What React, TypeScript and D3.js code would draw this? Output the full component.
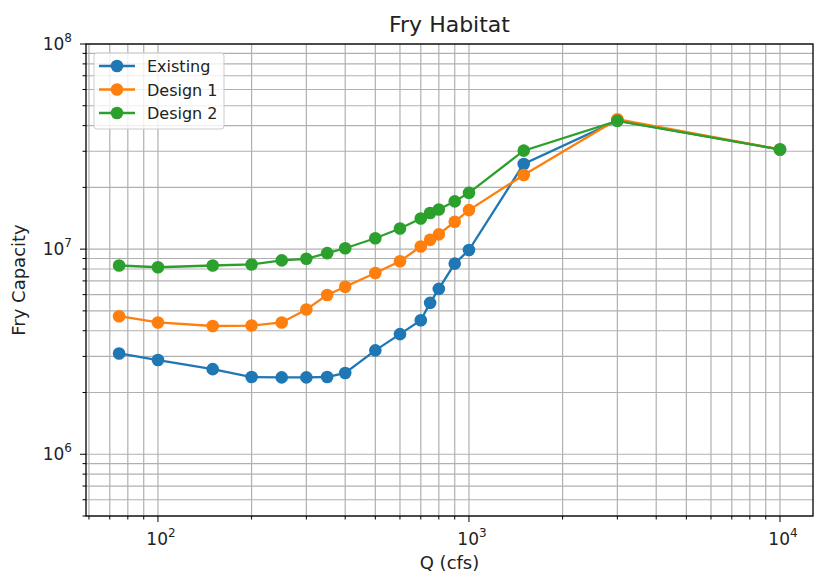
import React from "react";
import * as d3 from "d3";

// flow values (cfs)
const flows = [75, 100, 150, 200, 250, 300, 350, 400, 500, 600, 700, 750, 800, 900, 1000, 1500, 3000, 10000];

const existing = [3.1e6, 2.88e6, 2.6e6, 2.38e6, 2.37e6, 2.37e6, 2.38e6, 2.49e6, 3.21e6, 3.85e6, 4.5e6, 5.47e6, 6.4e6, 8.5e6, 9.9e6, 2.6e7, 4.23e7, 3.06e7];
const design1 = [4.71e6, 4.39e6, 4.22e6, 4.24e6, 4.39e6, 5.08e6, 5.98e6, 6.55e6, 7.65e6, 8.73e6, 1.03e7, 1.11e7, 1.18e7, 1.36e7, 1.55e7, 2.3e7, 4.3e7, 3.06e7];
const design2 = [8.32e6, 8.16e6, 8.32e6, 8.42e6, 8.81e6, 8.97e6, 9.56e6, 1.01e7, 1.13e7, 1.26e7, 1.41e7, 1.5e7, 1.56e7, 1.71e7, 1.88e7, 3.02e7, 4.22e7, 3.06e7];

const seriesNames = ["Existing", "Design 1", "Design 2"];
const seriesColors = ["#1f77b4", "#ff7f0e", "#2ca02c"];

const xMajor = [2, 3, 4];
const yMajor = [6, 7, 8];

const W = 820, H = 574;
const m = { left: 86, right: 7, top: 44, bottom: 58 };
const font = "DejaVu Sans, sans-serif";

export default function App() {
  const x = d3.scaleLog().domain([58.7, 12770]).range([m.left, W - m.right]);
  const y = d3.scaleLog().domain([5e5, 1e8]).range([H - m.bottom, m.top]);

  const xMinor: number[] = [];
  for (let e = 1; e <= 4; e++) for (let k = 2; k <= 9; k++) {
    const v = k * Math.pow(10, e);
    if (v >= 58.7 && v <= 12770) xMinor.push(v);
  }
  const yMinor: number[] = [];
  for (let e = 5; e <= 7; e++) for (let k = 2; k <= 9; k++) {
    const v = k * Math.pow(10, e);
    if (v >= 5e5 && v <= 1e8) yMinor.push(v);
  }

  const data = [existing, design1, design2];
  const line = d3.line<number>().x((d, i) => x(flows[i])).y(d => y(d));
  const x0 = m.left, x1 = W - m.right, y0 = m.top, y1 = H - m.bottom;

  return (
    <svg width={W} height={H} style={{ position: "absolute", left: 0, top: 0, background: "#fff" }} fontFamily={font}>
      <g stroke="#b0b0b0" strokeWidth={1.2}>
        {xMinor.concat(xMajor.map(e => Math.pow(10, e))).map((v, i) => (
          <line key={"gx" + i} x1={x(v)} x2={x(v)} y1={y0} y2={y1} />
        ))}
        {yMinor.concat(yMajor.map(e => Math.pow(10, e))).map((v, i) => (
          <line key={"gy" + i} y1={y(v)} y2={y(v)} x1={x0} x2={x1} />
        ))}
      </g>

      {data.map((s, si) => (
        <g key={si}>
          <path d={line(s) || ""} fill="none" stroke={seriesColors[si]} strokeWidth={2.3} />
          {s.map((d, i) => (
            <circle key={i} cx={x(flows[i])} cy={y(d)} r={6.3} fill={seriesColors[si]} />
          ))}
        </g>
      ))}

      <rect x={x0} y={y0} width={x1 - x0} height={y1 - y0} fill="none" stroke="#000" strokeWidth={1.3} />

      {/* ticks */}
      <g stroke="#000" strokeWidth={1}>
        {xMajor.map(e => (
          <line key={"xt" + e} x1={x(Math.pow(10, e))} x2={x(Math.pow(10, e))} y1={y1} y2={y1 + 6} />
        ))}
        {xMinor.map((v, i) => (
          <line key={"xm" + i} x1={x(v)} x2={x(v)} y1={y1} y2={y1 + 3.5} />
        ))}
        {yMajor.map(e => (
          <line key={"yt" + e} y1={y(Math.pow(10, e))} y2={y(Math.pow(10, e))} x1={x0} x2={x0 - 6} />
        ))}
        {yMinor.map((v, i) => (
          <line key={"ym" + i} y1={y(v)} y2={y(v)} x1={x0} x2={x0 - 3.5} />
        ))}
      </g>

      {xMajor.map(e => (
        <text key={"xl" + e} x={x(Math.pow(10, e)) + 3} y={545} textAnchor="middle" fontSize={17} fill="#222">
          10<tspan dy={-8} fontSize={12}>{e}</tspan>
        </text>
      ))}
      {yMajor.map(e => (
        <text key={"yl" + e} x={x0 - 14} y={y(Math.pow(10, e)) + 6} textAnchor="end" fontSize={17} fill="#222">
          10<tspan dy={-8} fontSize={12}>{e}</tspan>
        </text>
      ))}

      <text x={(x0 + x1) / 2} y={32} textAnchor="middle" fontSize={22} fill="#222">Fry Habitat</text>
      <text x={(x0 + x1) / 2} y={569} textAnchor="middle" fontSize={18} fill="#222">Q (cfs)</text>
      <text transform={`translate(25,${(y0 + y1) / 2}) rotate(-90)`} textAnchor="middle" fontSize={18} fill="#222">Fry Capacity</text>

      {/* legend */}
      <rect x={94} y={53} width={130} height={76} rx={3} fill="#fff" fillOpacity={0.8} stroke="#ccc" />
      {seriesNames.map((n, i) => (
        <g key={n} transform={`translate(0,${66 + i * 23.5})`}>
          <line x1={99} x2={135} y1={0} y2={0} stroke={seriesColors[i]} strokeWidth={2.3} />
          <circle cx={117} cy={0} r={6.3} fill={seriesColors[i]} />
          <text x={147} y={6} fontSize={16} fill="#222">{n}</text>
        </g>
      ))}
    </svg>
  );
}
